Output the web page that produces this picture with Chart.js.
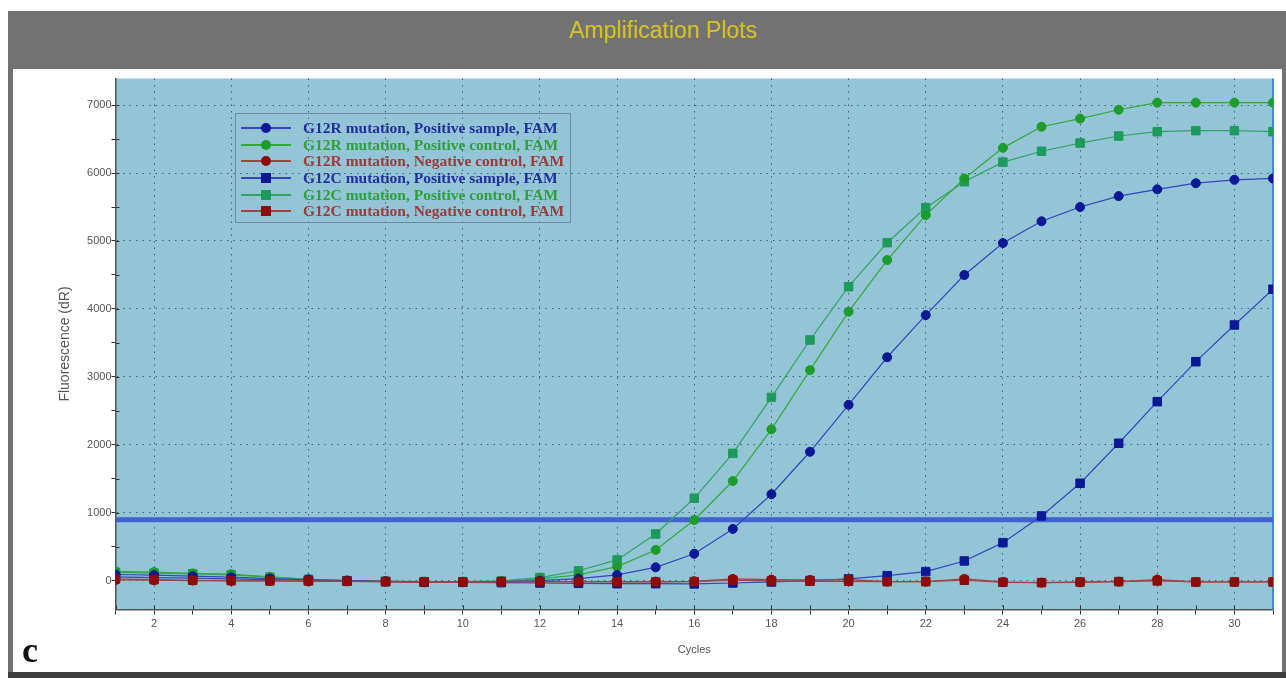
<!DOCTYPE html>
<html>
<head>
<meta charset="utf-8">
<script src="https://cdn.jsdelivr.net/npm/chart.js@4.4.0/dist/chart.umd.min.js"></script>
<style>
  html, body { margin: 0; padding: 0; background: #fff; }
  body { width: 1286px; height: 678px; position: relative; overflow: hidden; font-family: "Liberation Sans", Arial, sans-serif; }
  #frame { position: absolute; left: 8px; top: 11px; width: 1278px; height: 667px; background: #727272; }
  #bottomBand { position: absolute; left: 8px; top: 672px; width: 1278px; height: 6px; background: #3e3e3e; }
  #panel { position: absolute; left: 13px; top: 69px; width: 1269px; height: 603px; background: #fff; }
  #title { position: absolute; left: 8px; width: 1278px; top: 17px; text-align: center; color: #d6c21e; font-size: 23px; padding-left: 32px; box-sizing: border-box; }
  #letter { position: absolute; left: 22px; top: 632px; font-family: "Liberation Serif", serif; font-weight: bold; font-size: 36px; line-height: 36px; color: #111; }
  #chart { position: absolute; left: 0; top: 0; }
  #legend { position: absolute; left: 235px; top: 113px; width: 336px; height: 110px; border: 1px solid #6a8e9c; box-sizing: border-box; }
  .row { position: absolute; left: 0; width: 100%; height: 16px; }
  .sample { position: absolute; left: 5px; top: 7px; width: 50px; height: 0; border-top: 2px solid; }
  .mark { position: absolute; left: 25px; top: 3px; width: 10px; height: 10px; }
  .txt { position: absolute; left: 67px; top: -1px; white-space: nowrap; font-family: "Liberation Serif", serif; font-weight: bold; font-size: 15.5px; line-height: 17px; }
</style>
</head>
<body>
<div id="frame"></div>
<div id="bottomBand"></div>
<div id="panel"></div>
<div id="title">Amplification Plots</div>
<canvas id="chart" width="1286" height="678"></canvas>
<div id="legend"></div>
<div id="letter">c</div>
<script>
'use strict';

// datos
const cycles = [1, 2, 3, 4, 5, 6, 7, 8, 9, 10, 11, 12, 13, 14, 15, 16, 17, 18, 19, 20, 21, 22, 23, 24, 25, 26, 27, 28, 29, 30, 31];

const g12rPosSample = [95, 85, 70, 55, 35, 20, 5, -5, -15, -15, -10, 5, 35, 88, 200, 400, 765, 1275, 1900, 2590, 3290, 3910, 4500, 4970, 5290, 5500, 5660, 5760, 5850, 5900, 5920];
const g12rPosControl = [140, 130, 110, 100, 60, 25, 5, -5, -10, -10, -5, 30, 90, 210, 456, 897, 1470, 2230, 3100, 3960, 4720, 5380, 5920, 6370, 6680, 6800, 6930, 7035, 7035, 7035, 7035];
const g12rNegControl = [15, 10, 5, 0, 0, -5, -5, -10, -20, -20, -15, -10, -10, -10, -10, -5, 30, 20, 15, 20, -10, -10, 30, -15, -25, -20, -10, 20, -15, -15, -15];
const g12cPosSample = [60, 50, 40, 30, 20, 10, 0, -10, -20, -20, -25, -30, -35, -40, -40, -44, -30, -15, 5, 30, 78, 137, 294, 563, 956, 1437, 2025, 2637, 3225, 3765, 4290];
const g12cPosControl = [125, 115, 105, 90, 55, 25, 5, -5, -10, -10, 0, 50, 150, 309, 691, 1216, 1877, 2700, 3544, 4328, 4975, 5490, 5872, 6160, 6320, 6440, 6544, 6608, 6623, 6623, 6608];
const g12cNegControl = [30, 20, 10, 5, 0, 0, -5, -10, -15, -15, -10, -10, -10, -15, -15, -10, 10, 0, -5, -5, -10, -10, 10, -20, -25, -15, -10, 0, -15, -15, -15];

const thresholdValue = 900;

const seriesLabels = [
    "G12R mutation, Positive sample, FAM",
    "G12R mutation, Positive control, FAM",
    "G12R mutation, Negative control, FAM",
    "G12C mutation, Positive sample, FAM",
    "G12C mutation, Positive control, FAM",
    "G12C mutation, Negative control, FAM"
];

const xTickLabels = [2, 4, 6, 8, 10, 12, 14, 16, 18, 20, 22, 24, 26, 28, 30];
const yTickLabels = [0, 1000, 2000, 3000, 4000, 5000, 6000, 7000];
const yMinorStep = 500;

// estilos
const seriesValues = [g12rPosSample, g12rPosControl, g12rNegControl, g12cPosSample, g12cPosControl, g12cNegControl];
const lineColors = ['#3446c0', '#34aa3c', '#a04444', '#3446c0', '#34a464', '#a04444'];
const markerColors = ['#0c1896', '#1c9c2c', '#8c0c0c', '#0c1896', '#1e9a5c', '#8c0c0c'];
const textColors = ['#22309a', '#2ea03c', '#9a3c3c', '#22309a', '#2ea03c', '#9a3c3c'];
const markerStyles = ['circle', 'circle', 'circle', 'rect', 'rect', 'rect'];
const drawOrder = [2, 4, 1, 3, 5, 0];

let datasets = [];
for (let i = 0; i < seriesValues.length; i++) {
    datasets.push({
        label: seriesLabels[i],
        data: cycles.map((c, j) => ({ x: c, y: seriesValues[i][j] })),
        borderColor: lineColors[i],
        borderWidth: 1.2,
        backgroundColor: markerColors[i],
        pointBackgroundColor: markerColors[i],
        pointBorderColor: markerColors[i],
        pointBorderWidth: 1,
        pointStyle: markerStyles[i],
        pointRadius: markerStyles[i] == 'rect' ? 6 : 4.5,
        tension: 0,
        order: drawOrder[i]
    });
}
datasets.push({
    label: 'Threshold',
    data: [{ x: cycles[0], y: thresholdValue }, { x: cycles[cycles.length - 1], y: thresholdValue }],
    borderColor: '#4262d2',
    borderWidth: 5,
    pointRadius: 0,
    order: 10
});

// fondo, borde derecho y marcas interiores
const plotDeco = {
    id: 'plotDeco',
    beforeDraw(chart) {
        const { ctx, chartArea } = chart;
        ctx.save();
        ctx.fillStyle = '#93c5d6';
        ctx.fillRect(chartArea.left, chartArea.top, chartArea.right - chartArea.left, chartArea.bottom - chartArea.top);
        ctx.restore();
    },
    beforeDatasetsDraw(chart) {
        const { ctx, chartArea, scales } = chart;
        ctx.save();
        ctx.strokeStyle = '#333';
        ctx.lineWidth = 1;
        ctx.beginPath();
        scales.y.ticks.forEach(t => {
            let py = Math.round(scales.y.getPixelForValue(t.value)) + 0.5;
            ctx.moveTo(chartArea.left, py);
            ctx.lineTo(chartArea.left + 4, py);
        });
        scales.x.ticks.forEach(t => {
            let px = Math.round(scales.x.getPixelForValue(t.value)) + 0.5;
            ctx.moveTo(px, chartArea.bottom);
            ctx.lineTo(px, chartArea.bottom - 4);
        });
        ctx.stroke();
        ctx.strokeStyle = '#3c8ce0';
        ctx.lineWidth = 2;
        ctx.beginPath();
        ctx.moveTo(chartArea.right, chartArea.top);
        ctx.lineTo(chartArea.right, chartArea.bottom);
        ctx.stroke();
        ctx.restore();
    }
};

const gridColor = 'rgba(55,60,70,0.75)';

new Chart(document.getElementById('chart'), {
    type: 'line',
    data: { datasets: datasets },
    options: {
        responsive: false,
        animation: false,
        devicePixelRatio: 1,
        layout: { padding: { left: 0, right: 13, top: 78.5, bottom: 0 } },
        plugins: { legend: { display: false }, tooltip: { enabled: false } },
        scales: {
            x: {
                type: 'linear',
                min: cycles[0],
                max: cycles[cycles.length - 1],
                afterFit: (scale) => { scale.height = 68.5; },
                ticks: {
                    stepSize: 1,
                    autoSkip: false,
                    maxRotation: 0,
                    padding: 3,
                    color: '#555',
                    font: { family: 'Liberation Sans', size: 11 },
                    callback: (v) => xTickLabels.includes(v) ? String(v) : ''
                },
                grid: {
                    color: (c) => c.tick && xTickLabels.includes(c.tick.value) ? gridColor : 'rgba(0,0,0,0)',
                    tickColor: '#333',
                    tickLength: 5,
                    lineWidth: 1
                },
                border: { color: '#555', width: 1.5, dash: [1.5, 5] },
                title: {
                    display: true,
                    text: 'Cycles',
                    color: '#555',
                    font: { family: 'Liberation Sans', size: 11 },
                    padding: { top: 0, bottom: 21 }
                }
            },
            y: {
                type: 'linear',
                min: -420,
                max: 7390,
                afterFit: (scale) => { scale.width = 115.5; },
                afterBuildTicks: (scale) => {
                    let marcas = [];
                    let tope = yTickLabels[yTickLabels.length - 1];
                    for (let v = yTickLabels[0]; v <= tope; v += yMinorStep) {
                        marcas.push({ value: v });
                    }
                    scale.ticks = marcas;
                },
                ticks: {
                    padding: 0,
                    color: '#555',
                    font: { family: 'Liberation Sans', size: 11 },
                    callback: (v) => yTickLabels.includes(v) ? String(v) : ''
                },
                grid: {
                    color: (c) => c.tick && yTickLabels.includes(c.tick.value) ? gridColor : 'rgba(0,0,0,0)',
                    tickColor: '#333',
                    tickLength: 4,
                    lineWidth: 1
                },
                border: { color: '#555', width: 1.5, dash: [1.5, 5] },
                title: {
                    display: true,
                    text: 'Fluorescence (dR)',
                    color: '#555',
                    font: { family: 'Liberation Sans', size: 14 },
                    padding: { top: 57, bottom: 0 }
                }
            }
        }
    },
    plugins: [plotDeco]
});

// leyenda
let mostrarLeyenda = () => {
    const legend = document.querySelector('#legend');
    for (let i = 0; i < seriesLabels.length; i++) {
        let radius = markerStyles[i] == 'circle' ? '50%' : '0';
        let fila =
            `
            <div class="row" style="top:` + (6 + i * 16.66) + `px">
                <div class="sample" style="border-color:` + lineColors[i] + `"></div>
                <div class="mark" style="background:` + markerColors[i] + `;border-radius:` + radius + `"></div>
                <div class="txt" style="color:` + textColors[i] + `">` + seriesLabels[i] + `</div>
            </div>
        `
        legend.insertAdjacentHTML('beforeend', fila);
    }
}
mostrarLeyenda();
</script>
</body>
</html>
